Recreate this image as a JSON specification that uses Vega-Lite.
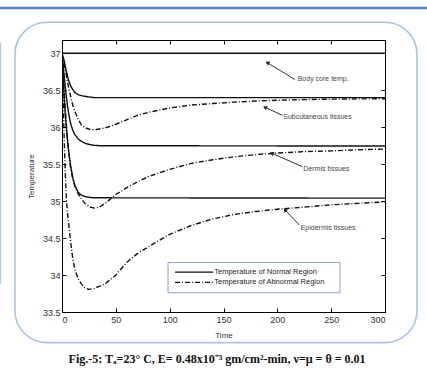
{
  "$schema": "https://vega.github.io/schema/vega-lite/v6.json",
  "width": 323,
  "height": 272,
  "autosize": "none",
  "padding": {"left": 62, "top": 40, "right": 42, "bottom": 71},
  "background": "white",
  "config": {
    "view": {"stroke": "#000", "strokeWidth": 1},
    "axis": {
      "grid": false,
      "labelFont": "Liberation Sans",
      "labelFontSize": 9,
      "labelColor": "#333",
      "titleFont": "Liberation Sans",
      "titleFontSize": 8,
      "titleFontWeight": "normal",
      "titleColor": "#333",
      "domainColor": "#000",
      "tickColor": "#000",
      "tickSize": -4,
      "labelPadding": 5
    }
  },
  "datasets": {
    "curves": [
      {"t":0,"v":37,"s":"Core","r":"Normal"},{"t":300,"v":37,"s":"Core","r":"Normal"},
      {"t":0,"v":37,"s":"Sub","r":"Normal"},{"t":1,"v":36.95,"s":"Sub","r":"Normal"},{"t":2,"v":36.9,"s":"Sub","r":"Normal"},{"t":3,"v":36.83,"s":"Sub","r":"Normal"},{"t":4,"v":36.76,"s":"Sub","r":"Normal"},{"t":5,"v":36.7,"s":"Sub","r":"Normal"},{"t":6,"v":36.64,"s":"Sub","r":"Normal"},{"t":8,"v":36.56,"s":"Sub","r":"Normal"},{"t":10,"v":36.51,"s":"Sub","r":"Normal"},{"t":12,"v":36.47,"s":"Sub","r":"Normal"},{"t":15,"v":36.44,"s":"Sub","r":"Normal"},{"t":20,"v":36.42,"s":"Sub","r":"Normal"},{"t":25,"v":36.41,"s":"Sub","r":"Normal"},{"t":30,"v":36.4,"s":"Sub","r":"Normal"},{"t":300,"v":36.4,"s":"Sub","r":"Normal"},
      {"t":0,"v":37,"s":"Der","r":"Normal"},{"t":1,"v":36.85,"s":"Der","r":"Normal"},{"t":2,"v":36.7,"s":"Der","r":"Normal"},{"t":3,"v":36.55,"s":"Der","r":"Normal"},{"t":4,"v":36.42,"s":"Der","r":"Normal"},{"t":5,"v":36.3,"s":"Der","r":"Normal"},{"t":6,"v":36.2,"s":"Der","r":"Normal"},{"t":8,"v":36.05,"s":"Der","r":"Normal"},{"t":10,"v":35.96,"s":"Der","r":"Normal"},{"t":12,"v":35.9,"s":"Der","r":"Normal"},{"t":15,"v":35.84,"s":"Der","r":"Normal"},{"t":18,"v":35.81,"s":"Der","r":"Normal"},{"t":22,"v":35.78,"s":"Der","r":"Normal"},{"t":26,"v":35.765,"s":"Der","r":"Normal"},{"t":30,"v":35.755,"s":"Der","r":"Normal"},{"t":35,"v":35.75,"s":"Der","r":"Normal"},{"t":300,"v":35.745,"s":"Der","r":"Normal"},
      {"t":0,"v":37,"s":"Epi","r":"Normal"},{"t":1,"v":36.7,"s":"Epi","r":"Normal"},{"t":2,"v":36.4,"s":"Epi","r":"Normal"},{"t":3,"v":36.18,"s":"Epi","r":"Normal"},{"t":4,"v":36.0,"s":"Epi","r":"Normal"},{"t":5,"v":35.84,"s":"Epi","r":"Normal"},{"t":6,"v":35.7,"s":"Epi","r":"Normal"},{"t":8,"v":35.48,"s":"Epi","r":"Normal"},{"t":10,"v":35.32,"s":"Epi","r":"Normal"},{"t":12,"v":35.21,"s":"Epi","r":"Normal"},{"t":15,"v":35.12,"s":"Epi","r":"Normal"},{"t":18,"v":35.08,"s":"Epi","r":"Normal"},{"t":22,"v":35.06,"s":"Epi","r":"Normal"},{"t":26,"v":35.05,"s":"Epi","r":"Normal"},{"t":30,"v":35.045,"s":"Epi","r":"Normal"},{"t":300,"v":35.04,"s":"Epi","r":"Normal"},
      {"t":0,"v":37,"s":"Sub","r":"Abnormal"},{"t":1,"v":36.93,"s":"Sub","r":"Abnormal"},{"t":2,"v":36.85,"s":"Sub","r":"Abnormal"},{"t":3,"v":36.78,"s":"Sub","r":"Abnormal"},{"t":4,"v":36.7,"s":"Sub","r":"Abnormal"},{"t":5,"v":36.62,"s":"Sub","r":"Abnormal"},{"t":6,"v":36.55,"s":"Sub","r":"Abnormal"},{"t":8,"v":36.42,"s":"Sub","r":"Abnormal"},{"t":10,"v":36.3,"s":"Sub","r":"Abnormal"},{"t":12,"v":36.21,"s":"Sub","r":"Abnormal"},{"t":15,"v":36.11,"s":"Sub","r":"Abnormal"},{"t":18,"v":36.03,"s":"Sub","r":"Abnormal"},{"t":22,"v":35.99,"s":"Sub","r":"Abnormal"},{"t":27,"v":35.965,"s":"Sub","r":"Abnormal"},{"t":32,"v":35.97,"s":"Sub","r":"Abnormal"},{"t":40,"v":35.99,"s":"Sub","r":"Abnormal"},{"t":50,"v":36.04,"s":"Sub","r":"Abnormal"},{"t":60,"v":36.1,"s":"Sub","r":"Abnormal"},{"t":70,"v":36.16,"s":"Sub","r":"Abnormal"},{"t":80,"v":36.2,"s":"Sub","r":"Abnormal"},{"t":100,"v":36.26,"s":"Sub","r":"Abnormal"},{"t":120,"v":36.3,"s":"Sub","r":"Abnormal"},{"t":140,"v":36.32,"s":"Sub","r":"Abnormal"},{"t":160,"v":36.34,"s":"Sub","r":"Abnormal"},{"t":180,"v":36.355,"s":"Sub","r":"Abnormal"},{"t":200,"v":36.365,"s":"Sub","r":"Abnormal"},{"t":225,"v":36.373,"s":"Sub","r":"Abnormal"},{"t":250,"v":36.38,"s":"Sub","r":"Abnormal"},{"t":275,"v":36.383,"s":"Sub","r":"Abnormal"},{"t":300,"v":36.385,"s":"Sub","r":"Abnormal"},
      {"t":0,"v":37,"s":"Der","r":"Abnormal"},{"t":1,"v":36.75,"s":"Der","r":"Abnormal"},{"t":2,"v":36.5,"s":"Der","r":"Abnormal"},{"t":3,"v":36.27,"s":"Der","r":"Abnormal"},{"t":4,"v":36.05,"s":"Der","r":"Abnormal"},{"t":5,"v":35.86,"s":"Der","r":"Abnormal"},{"t":6,"v":35.7,"s":"Der","r":"Abnormal"},{"t":8,"v":35.45,"s":"Der","r":"Abnormal"},{"t":10,"v":35.3,"s":"Der","r":"Abnormal"},{"t":12,"v":35.2,"s":"Der","r":"Abnormal"},{"t":15,"v":35.1,"s":"Der","r":"Abnormal"},{"t":18,"v":35.03,"s":"Der","r":"Abnormal"},{"t":22,"v":34.96,"s":"Der","r":"Abnormal"},{"t":26,"v":34.92,"s":"Der","r":"Abnormal"},{"t":30,"v":34.905,"s":"Der","r":"Abnormal"},{"t":35,"v":34.92,"s":"Der","r":"Abnormal"},{"t":40,"v":34.97,"s":"Der","r":"Abnormal"},{"t":50,"v":35.09,"s":"Der","r":"Abnormal"},{"t":60,"v":35.18,"s":"Der","r":"Abnormal"},{"t":70,"v":35.26,"s":"Der","r":"Abnormal"},{"t":80,"v":35.33,"s":"Der","r":"Abnormal"},{"t":100,"v":35.43,"s":"Der","r":"Abnormal"},{"t":120,"v":35.51,"s":"Der","r":"Abnormal"},{"t":140,"v":35.56,"s":"Der","r":"Abnormal"},{"t":160,"v":35.6,"s":"Der","r":"Abnormal"},{"t":180,"v":35.63,"s":"Der","r":"Abnormal"},{"t":200,"v":35.65,"s":"Der","r":"Abnormal"},{"t":225,"v":35.67,"s":"Der","r":"Abnormal"},{"t":250,"v":35.68,"s":"Der","r":"Abnormal"},{"t":275,"v":35.695,"s":"Der","r":"Abnormal"},{"t":300,"v":35.705,"s":"Der","r":"Abnormal"},
      {"t":0,"v":37,"s":"Epi","r":"Abnormal"},{"t":1,"v":36.4,"s":"Epi","r":"Abnormal"},{"t":2,"v":35.85,"s":"Epi","r":"Abnormal"},{"t":3,"v":35.4,"s":"Epi","r":"Abnormal"},{"t":4,"v":35.05,"s":"Epi","r":"Abnormal"},{"t":5,"v":34.85,"s":"Epi","r":"Abnormal"},{"t":6,"v":34.72,"s":"Epi","r":"Abnormal"},{"t":8,"v":34.45,"s":"Epi","r":"Abnormal"},{"t":10,"v":34.22,"s":"Epi","r":"Abnormal"},{"t":12,"v":34.07,"s":"Epi","r":"Abnormal"},{"t":15,"v":33.95,"s":"Epi","r":"Abnormal"},{"t":18,"v":33.88,"s":"Epi","r":"Abnormal"},{"t":21,"v":33.83,"s":"Epi","r":"Abnormal"},{"t":25,"v":33.805,"s":"Epi","r":"Abnormal"},{"t":30,"v":33.82,"s":"Epi","r":"Abnormal"},{"t":35,"v":33.85,"s":"Epi","r":"Abnormal"},{"t":40,"v":33.88,"s":"Epi","r":"Abnormal"},{"t":50,"v":34.0,"s":"Epi","r":"Abnormal"},{"t":60,"v":34.17,"s":"Epi","r":"Abnormal"},{"t":70,"v":34.29,"s":"Epi","r":"Abnormal"},{"t":80,"v":34.38,"s":"Epi","r":"Abnormal"},{"t":100,"v":34.55,"s":"Epi","r":"Abnormal"},{"t":120,"v":34.67,"s":"Epi","r":"Abnormal"},{"t":140,"v":34.76,"s":"Epi","r":"Abnormal"},{"t":160,"v":34.82,"s":"Epi","r":"Abnormal"},{"t":180,"v":34.86,"s":"Epi","r":"Abnormal"},{"t":200,"v":34.89,"s":"Epi","r":"Abnormal"},{"t":225,"v":34.92,"s":"Epi","r":"Abnormal"},{"t":250,"v":34.95,"s":"Epi","r":"Abnormal"},{"t":275,"v":34.97,"s":"Epi","r":"Abnormal"},{"t":300,"v":34.99,"s":"Epi","r":"Abnormal"}
    ],
    "notes": [
      {"label":"Body core temp.","tipT":190.7,"tipV":36.873,"tailT":216.4,"tailV":36.645,"textT":218.9,"textV":36.653,"group":"a"},
      {"label":"Subcutaneous tissues","tipT":188.5,"tipV":36.27,"tailT":204.9,"tailV":36.16,"textT":205.5,"textV":36.145,"group":"a"},
      {"label":"Dermis tissues","tipT":194.8,"tipV":35.648,"tailT":223.2,"tailV":35.467,"textT":224.1,"textV":35.433,"group":"a"},
      {"label":"Epidermis tissues","tipT":207.1,"tipV":34.882,"tailT":220.4,"tailV":34.677,"textT":221.7,"textV":34.635,"group":"b"}
    ],
    "legend": [
      {"label":"Temperature of Normal Region","r":"Normal","v":34.04},
      {"label":"Temperature of Abnormal Region","r":"Abnormal","v":33.9}
    ]
  },
  "layer": [
    {
      "data": {"values": [{}]},
      "mark": {"type": "rule", "stroke": "#4f7fc0", "strokeWidth": 2.5},
      "encoding": {
        "x": {"datum": -58, "type": "quantitative", "axis": null},
        "x2": {"datum": 340},
        "y": {"datum": 37.612, "type": "quantitative", "axis": null}
      }
    },
    {
      "data": {"values": [{}]},
      "mark": {"type": "rule", "stroke": "#b4c8e6", "strokeWidth": 1.5},
      "encoding": {
        "x": {"datum": -57.2, "type": "quantitative", "axis": null},
        "y": {"datum": 37.15, "type": "quantitative", "axis": null},
        "y2": {"datum": 33.88}
      }
    },
    {
      "data": {"values": [{}]},
      "mark": {"type": "rect", "filled": false, "stroke": "#a9c2e6", "strokeWidth": 1.6, "cornerRadius": 32},
      "encoding": {
        "x": {"datum": -43.7, "type": "quantitative", "axis": null},
        "x2": {"datum": 329.7},
        "y": {"datum": 37.42, "type": "quantitative", "axis": null},
        "y2": {"datum": 33.085}
      }
    },
    {
      "data": {"name": "curves"},
      "mark": {"type": "line", "stroke": "#111", "strokeWidth": 1.4, "clip": true},
      "encoding": {
        "x": {
          "field": "t", "type": "quantitative",
          "scale": {"domain": [0, 300], "nice": false},
          "axis": {"title": "Time", "values": [0, 50, 100, 150, 200, 250, 300], "titlePadding": 7, "labelPadding": 7, "domain": false}
        },
        "y": {
          "field": "v", "type": "quantitative",
          "scale": {"domain": [33.5, 37.18], "nice": false, "zero": false},
          "axis": {"title": "Temperature", "format": "~g", "values": [33.5, 34, 34.5, 35, 35.5, 36, 36.5, 37], "titlePadding": 7, "labelPadding": 6, "domain": false}
        },
        "detail": {"field": "s"},
        "strokeDash": {
          "field": "r", "type": "nominal",
          "scale": {"domain": ["Normal", "Abnormal"], "range": [[1, 0], [5, 2, 1, 2]]},
          "legend": null
        }
      }
    },
    {
      "data": {"values": [{}]},
      "mark": {"type": "point", "opacity": 0},
      "encoding": {
        "x": {"datum": 0, "type": "quantitative", "axis": {"orient": "top", "labels": false, "title": null, "domain": false, "values": [0, 50, 100, 150, 200, 250, 300]}},
        "y": {"datum": 37, "type": "quantitative", "axis": {"orient": "right", "labels": false, "title": null, "domain": false, "values": [33.5, 34, 34.5, 35, 35.5, 36, 36.5, 37]}}
      }
    },
    {
      "data": {"name": "notes"},
      "mark": {"type": "rule", "stroke": "#333", "strokeWidth": 1},
      "encoding": {
        "x": {"field": "tailT", "type": "quantitative", "axis": null},
        "x2": {"field": "tipT"},
        "y": {"field": "tailV", "type": "quantitative", "axis": null},
        "y2": {"field": "tipV"}
      }
    },
    {
      "data": {"name": "notes"},
      "transform": [{"filter": "datum.group == 'a'"}],
      "mark": {"type": "point", "shape": "triangle-up", "filled": true, "color": "#222", "size": 22, "angle": 298, "opacity": 1},
      "encoding": {
        "x": {"field": "tipT", "type": "quantitative", "axis": null},
        "y": {"field": "tipV", "type": "quantitative", "axis": null}
      }
    },
    {
      "data": {"name": "notes"},
      "transform": [{"filter": "datum.group == 'b'"}],
      "mark": {"type": "point", "shape": "triangle-up", "filled": true, "color": "#222", "size": 22, "angle": 316, "opacity": 1},
      "encoding": {
        "x": {"field": "tipT", "type": "quantitative", "axis": null},
        "y": {"field": "tipV", "type": "quantitative", "axis": null}
      }
    },
    {
      "data": {"name": "notes"},
      "mark": {"type": "text", "align": "left", "baseline": "middle", "font": "Liberation Sans", "fontSize": 7, "color": "#444"},
      "encoding": {
        "x": {"field": "textT", "type": "quantitative", "axis": null},
        "y": {"field": "textV", "type": "quantitative", "axis": null},
        "text": {"field": "label"}
      }
    },
    {
      "data": {"values": [{}]},
      "mark": {"type": "rect", "fill": "white", "stroke": "#8ea3c9", "strokeWidth": 1},
      "encoding": {
        "x": {"datum": 98.5, "type": "quantitative", "axis": null},
        "x2": {"datum": 258.2},
        "y": {"datum": 34.17, "type": "quantitative", "axis": null},
        "y2": {"datum": 33.76}
      }
    },
    {
      "data": {"name": "legend"},
      "mark": {"type": "rule", "stroke": "#111", "strokeWidth": 1.2},
      "encoding": {
        "x": {"datum": 105, "type": "quantitative", "axis": null},
        "x2": {"datum": 140.5},
        "y": {"field": "v", "type": "quantitative", "axis": null},
        "strokeDash": {
          "field": "r", "type": "nominal",
          "scale": {"domain": ["Normal", "Abnormal"], "range": [[1, 0], [5, 2, 1, 2]]},
          "legend": null
        }
      }
    },
    {
      "data": {"name": "legend"},
      "mark": {"type": "text", "align": "left", "baseline": "middle", "dx": 1, "font": "Liberation Sans", "fontSize": 7.5, "color": "#222"},
      "encoding": {
        "x": {"datum": 140.5, "type": "quantitative", "axis": null},
        "y": {"field": "v", "type": "quantitative", "axis": null},
        "text": {"field": "label"}
      }
    },
    {
      "data": {"values": [{"caption": "Fig.-5: Tₐ=23° C, E= 0.48x10⁻³ gm/cm²-min, ν=μ = θ = 0.01"}]},
      "mark": {"type": "text", "align": "center", "baseline": "middle", "font": "Liberation Serif", "fontWeight": "bold", "fontSize": 12, "color": "#111"},
      "encoding": {
        "x": {"datum": 144, "type": "quantitative", "axis": null},
        "y": {"datum": 32.87, "type": "quantitative", "axis": null},
        "text": {"field": "caption"}
      }
    }
  ],
  "resolve": {"axis": {"x": "independent", "y": "independent"}}
}
